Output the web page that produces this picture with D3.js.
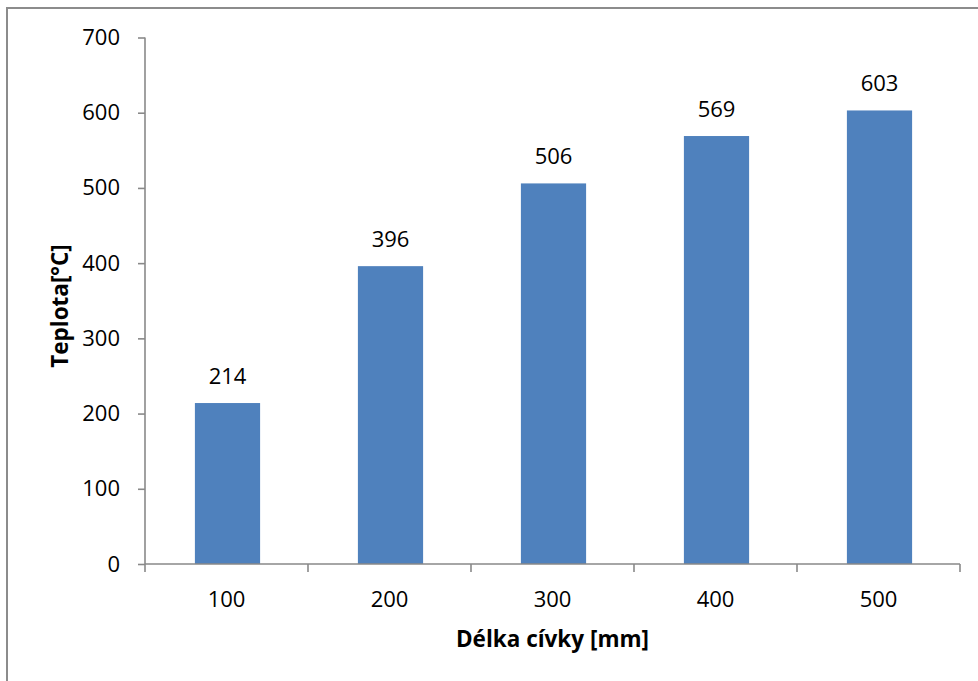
<!DOCTYPE html>
<html>
<head>
<meta charset="utf-8">
<script src="https://cdn.jsdelivr.net/npm/d3@7"></script>
<style>
  html, body { margin: 0; padding: 0; background: #fff; }
  svg { display: block; }
  text { font-family: "Open Sans", Lato, sans-serif; fill: #000; }
</style>
</head>
<body>
<svg id="chart" width="978" height="681"></svg>
<script>
// Coil length categories and measured temperatures
const categories = ["100", "200", "300", "400", "500"];
const temperatures = [214, 396, 506, 569, 603];
const yTicks = [0, 100, 200, 300, 400, 500, 600, 700];
const xTitle = "Délka cívky [mm]";
const yTitle = "Teplota[°C]";

const svg = d3.select("#chart");
const axisColor = "#898989";
const barColor = "#4F81BD";
const fontFamily = "'Open Sans', Lato, sans-serif";

// Outer chart frame
svg.append("rect")
  .attr("x", 7).attr("y", 8)
  .attr("width", 1000).attr("height", 700)
  .attr("fill", "none")
  .attr("stroke", "#8c8c8c")
  .attr("stroke-width", 2);

const plot = { left: 145, right: 960, top: 37.5, bottom: 564 };

const x = d3.scaleBand()
  .domain(categories)
  .range([plot.left, plot.right])
  .padding(0);

const y = d3.scaleLinear()
  .domain([0, 700])
  .range([plot.bottom, plot.top]);

// Bars
const barFrac = 0.4;
svg.append("g").selectAll("rect")
  .data(categories)
  .join("rect")
  .attr("x", (d) => x(d) + x.bandwidth() * (1 - barFrac) / 2 + 1)
  .attr("width", x.bandwidth() * barFrac)
  .attr("y", (d, i) => y(temperatures[i]))
  .attr("height", (d, i) => y(0) - y(temperatures[i]))
  .attr("fill", barColor);

// Value labels above bars
svg.append("g").selectAll("text")
  .data(categories)
  .join("text")
  .attr("x", (d) => x(d) + x.bandwidth() / 2 + 1)
  .attr("y", (d, i) => y(temperatures[i]) - 19)
  .attr("text-anchor", "middle")
  .style("font-size", "22px")
  .text((d, i) => temperatures[i]);

// Y axis
const yAxis = svg.append("g")
  .attr("transform", `translate(${plot.left},0)`)
  .call(d3.axisLeft(y).tickValues(yTicks).tickSize(7).tickPadding(18));
yAxis.selectAll("path, line").attr("stroke", axisColor).attr("stroke-width", 1.6);
yAxis.select(".domain").attr("d", `M0,${plot.top}V${plot.bottom}`);
yAxis.selectAll("text")
  .style("font-size", "22px")
  .style("font-family", fontFamily)
  .attr("fill", "#000");

// X axis: labels centred in each category, tick marks on category boundaries
const xAxis = svg.append("g")
  .attr("transform", `translate(0,${plot.bottom})`)
  .call(d3.axisBottom(x).tickSize(0).tickPadding(0));
xAxis.select(".domain").attr("d", `M${plot.left},0H${plot.right}`)
  .attr("stroke", axisColor).attr("stroke-width", 1.6);
xAxis.selectAll("text")
  .attr("dy", null)
  .attr("y", 43)
  .style("font-size", "22px")
  .style("font-family", fontFamily)
  .attr("fill", "#000");

const boundaries = categories.map((d) => x(d)).concat([x(categories[categories.length - 1]) + x.bandwidth()]);
xAxis.append("g").selectAll("line")
  .data(boundaries)
  .join("line")
  .attr("x1", (d) => d).attr("x2", (d) => d)
  .attr("y1", 0).attr("y2", 8)
  .attr("stroke", axisColor)
  .attr("stroke-width", 1.6);

// Axis titles
svg.append("text")
  .attr("x", 552.5).attr("y", 647)
  .attr("text-anchor", "middle")
  .style("font-size", "22.5px")
  .style("font-weight", "bold")
  .text(xTitle);

svg.append("text")
  .attr("transform", "translate(68,306) rotate(-90)")
  .attr("text-anchor", "middle")
  .style("font-size", "22.5px")
  .style("font-weight", "bold")
  .text(yTitle);
</script>
</body>
</html>
